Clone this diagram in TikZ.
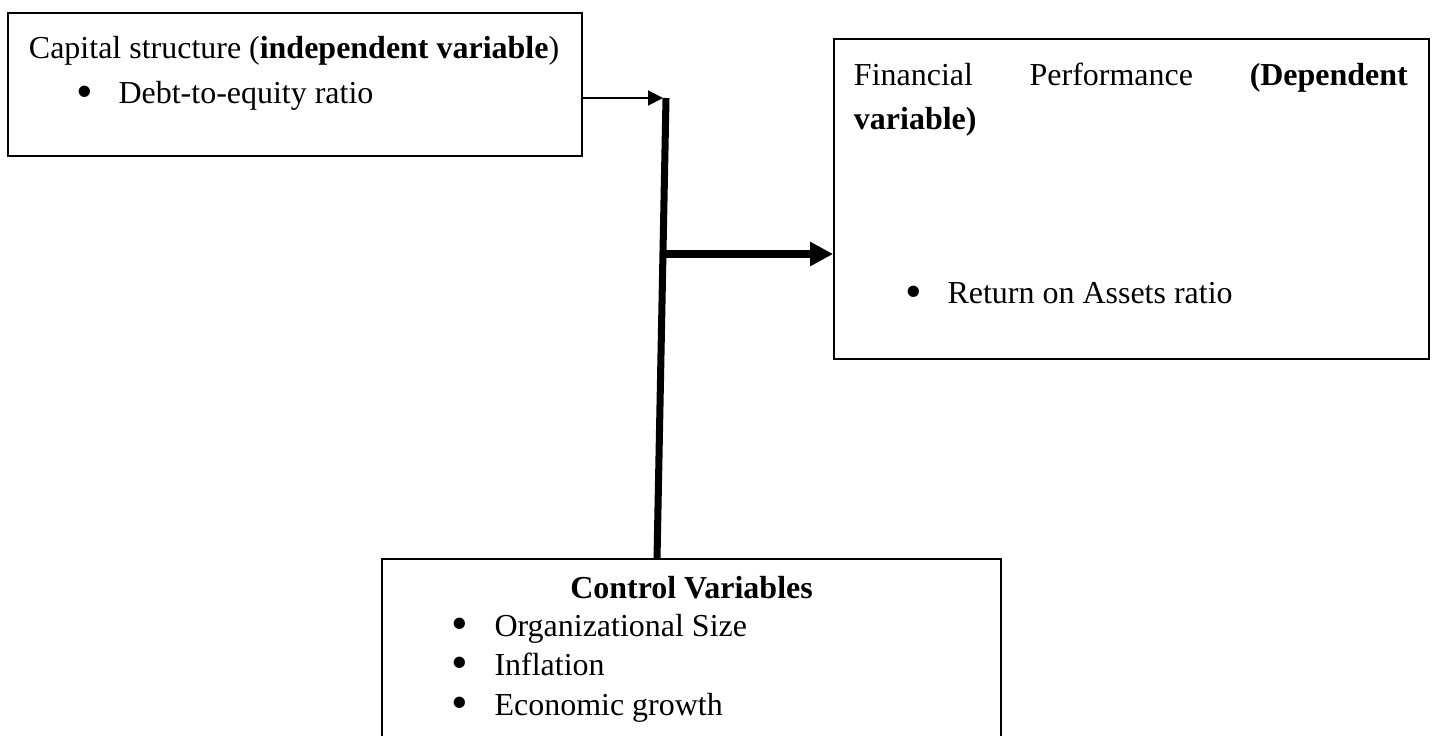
\documentclass[tikz,border=0pt]{standalone}
\usepackage{fontspec}
\setmainfont{Liberation Serif}
\usetikzlibrary{arrows.meta, positioning, calc}
\definecolor{inkblack}{HTML}{000000}

\newcommand{\itemdot}{\raisebox{-0.1em}[0pt][0pt]{\fontsize{27}{0}\selectfont\textbullet}}

\tikzset{
  varbox/.style={draw=inkblack, line width=1.1pt, inner sep=0pt},
  boxtext/.style={text=inkblack, inner sep=0pt, align=left,
    font=\fontsize{18.2}{25.6}\selectfont},
  listtext/.style={boxtext, font=\fontsize{18.2}{22.4}\selectfont},
}

\begin{document}
\begin{tikzpicture}[x=0.02cm, y=-0.02cm, line width=1.1pt]

% Frame
\useasboundingbox (0,0) rectangle (1434,736);
\clip (0,0) rectangle (1434,736);
\fill[white] (0,0) rectangle (1434,736);

% Box 1: Capital structure
\node[varbox, minimum width=11.48cm, minimum height=2.86cm] (capbox) at (295,84.5) {};
\node[boxtext, anchor=base west] (caphead) at (28,59)
  {Capital structure (\textbf{independent variable})};
\node[boxtext, anchor=base west] (capitem) at (76,104)
  {\itemdot\hspace{0.5cm}Debt-to-equity ratio};

% Box 2: Financial performance
\node[varbox, minimum width=11.9cm, minimum height=6.4cm] (finbox) at (1131.5,199) {};
\node[boxtext, anchor=base west] (finhead) at (853,130)
  {\hbox to 11.08cm{Financial\hfill Performance\hfill\textbf{(Dependent}}\\\textbf{variable)}};
\node[boxtext, anchor=base west] (finitem) at (905,304)
  {\itemdot\hspace{0.5cm}Return on Assets ratio};

% Box 3: Control variables
\node[varbox, minimum width=12.38cm, minimum height=4.4cm] (ctrlbox) at (691.5,669) {};
\node[boxtext, anchor=base] (ctrlhead) at (691.5,598) {\textbf{Control Variables}};
\node[listtext, anchor=base west] (ctrlitems) at (451,715)
  {\itemdot\hspace{0.52cm}Organizational Size\\
   \itemdot\hspace{0.52cm}Inflation\\
   \itemdot\hspace{0.52cm}Economic growth};

% Junction bar
\coordinate (jtop) at (666,98);
\coordinate (jmid) at (661.5,254);
\coordinate (jbot) at (657,559);

% Connectors
\draw[inkblack, line width=1.1pt, -{Triangle[length=0.3cm, width=0.3cm]}, shorten >=0.06cm]
  (capbox.east |- jtop) -- (jtop);
\draw[inkblack, line width=4pt] (jtop) -- (jbot);
\draw[inkblack, line width=4pt, -{Triangle[length=0.46cm, width=0.46cm]}]
  (jmid) -- (finbox.west |- jmid);

\end{tikzpicture}
\end{document}
